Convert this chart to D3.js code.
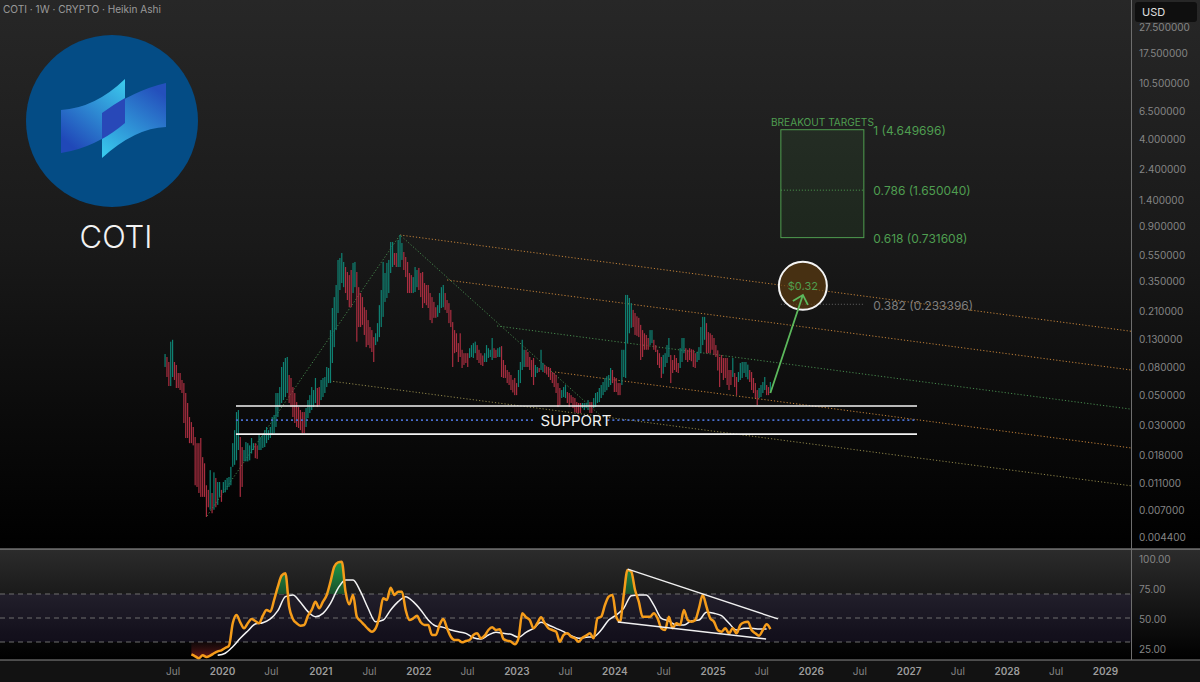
<!DOCTYPE html>
<html>
<head>
<meta charset="utf-8">
<title>COTI 1W</title>
<script src="https://cdn.jsdelivr.net/npm/d3@7"></script>
<style>
  html, body { margin: 0; padding: 0; background: #000; }
  svg { display: block; }
  text { font-family: Inter, "Liberation Sans", sans-serif; }
</style>
</head>
<body>
<svg id="chart" width="1200" height="682"></svg>
<script>
// weekly Heikin Ashi bars, first bar is 3 Jun 2019
var barHigh = [
  .0995,.0946,.0868,.123,.127,.0868,.0825,.0719,.0719,.0638,
  .0605,.051,.043,.0338,.031,.0285,.024,.0216,.0216,.0236,
  .017,.0153,.0105,.0097,.0136,.0092,.0131,.0119,.0111,.0111,
  .0097,.0111,.0115,.0119,.0121,.0144,.0216,.027,.0368,.0381,
  .024,.0202,.0192,.022,.0216,.0208,.0236,.0216,.0216,.0208,
  .0248,.024,.0248,.027,.0285,.027,.0285,.0338,.035,.051,
  .051,.0565,.0797,.0868,.093,.0946,.0695,.066,.0565,.051,
  .0437,.0401,.0381,.0368,.0368,.0394,.0452,.0492,.0565,.0537,
  .066,.0556,.0565,.0638,.066,.0671,.0797,.0783,.15,.219,
  .264,.325,.499,.516,.562,.482,.442,.406,.385,.42,
  .474,.482,.406,.313,.283,.264,.222,.212,.178,.158,
  .15,.133,.142,.169,.23,.298,.482,.399,.474,.499,
  .679,.679,.562,.562,.703,.766,.667,.572,.525,.482,
  .399,.385,.372,.442,.42,.435,.399,.406,.336,.325,
  .325,.283,.264,.243,.222,.23,.283,.313,.325,.283,
  .251,.238,.212,.172,.15,.142,.12,.142,.107,.101,.101,.101,
  .11,.116,.12,.123,.116,.107,.101,
  .097,
  .101,.116,.11,.107,.131,.11,.107,
  .11,.112,.114,.0898,.0825,.0757,.0731,.0695,
  .064,
  .066,.0605,.0757,.0868,.127,.107,.107,.103,.0946,.0898,.093,
  .0825,.0797,.0783,.107,.0853,.0825,
  .08,
  .0797,.0783,.0731,.0719,.0695,.0605,.0556,.0537,.0565,.0585,.0519,.051,.0492,.0476,.0468,.0437,
  .043,
  .043,.043,.043,.043,.0452,.0437,.0437,.0468,.051,.0519,.0556,.0585,.0616,.066,
  .068,
  .0695,.0783,.0757,.0671,.066,.0605,.0605,.107,.107,.274,.274,.26,.238,.212,.201,
  .19,
  .185,.164,.15,.142,.138,.131,.15,.15,.127,.116,.107,.101,.0946,
  .098,
  .101,.116,.131,.0978,.0898,.0978,.093,.0853,.11,.131,.131,.11,.107,.11,
  .108,
  .107,.101,.103,.112,.158,.188,.188,.169,.145,.142,.138,.131,.116,
  .106,
  .0946,.0978,.093,.093,.093,.0757,.0757,.093,.0719,.0671,.0731,.0853,.0868,.0868,.0868,
  .083,
  .0757,.0731,.066,.0605,.0537,.0556,.0585,.0616,.0671,.0585,.0565,.0616
];
var barLow = [
  .0797,.0671,.0575,.0575,.0671,.0638,.0556,.0556,.0537,.051,
  .0305,.0236,.0236,.0216,.0216,.0208,.0105,.0102,.0092,.0086,
  .0086,.0086,.0061,.0072,.0069,.0065,.0069,.0072,.0075,.0086,
  .0079,.0092,.0093,.0097,.0102,.0105,.0144,.0149,.0161,.0192,
  .0086,.0102,.0158,.0158,.0158,.0161,.0181,.0192,.0167,.0165,
  .0192,.0192,.0199,.0202,.0216,.0228,.0236,.0248,.0256,.0285,
  .0338,.0401,.043,.0452,.0476,.051,.043,.0401,.0338,.0305,
  .0285,.028,.027,.0256,.0256,.0285,.0332,.0362,.0381,.0401,
  .043,.0401,.0415,.0452,.0476,.051,.0565,.0605,.0605,.0853,
  .112,.15,.201,.298,.336,.313,.283,.251,.222,.222,
  .283,.313,.123,.158,.158,.164,.138,.112,.116,.11,
  .103,.0868,.116,.123,.133,.158,.188,.243,.26,.283,
  .399,.442,.458,.442,.442,.442,.499,.42,.372,.283,
  .283,.283,.283,.288,.313,.298,.264,.219,.238,.23,
  .219,.178,.169,.185,.185,.188,.201,.219,.222,.212,
  .201,.169,.158,.0797,.101,.103,.0868,.0946,.0783,.0825,.0853,.0797,
  .093,.0946,.093,.101,.0898,.0853,.0825,
  .081,
  .0868,.0868,.093,.0946,.0898,.093,.093,
  .0946,.0946,.0671,.066,.066,.0605,.0585,.0537,
  .0515,
  .0492,.0492,.0565,.0605,.0757,.0797,.0797,.0797,.0757,.0671,.0585,
  .0671,.0719,.0731,.0757,.0731,.0719,
  .07,
  .0671,.0638,.0605,.0565,.051,.0401,.0415,.0468,.0476,.0468,.043,.0401,.043,.0394,.0368,.0362,
  .0362,
  .0362,.0394,.0381,.0394,.0381,.0362,.0362,.0394,.0401,.043,.0437,.0468,.0492,.0519,
  .0535,
  .0565,.0585,.0605,.0519,.0519,.0492,.0492,.0585,.0671,.066,.12,.142,.156,.158,.138,
  .136,
  .133,.0898,.0946,.107,.107,.107,.116,.12,.107,.103,.0825,.0783,.066,
  .071,
  .0797,.0853,.0946,.0605,.0719,.0757,.0731,.0719,.0783,.0868,.101,.0898,.0868,.0898,
  .088,
  .0797,.0783,.0868,.0898,.101,.116,.127,.101,.101,.101,.107,.0978,.0946,
  .075,
  .0565,.0719,.0638,.066,.0585,.0537,.0585,.0671,.0565,.0492,.0616,.0638,.066,.0719,.0671,
  .0645,
  .0616,.0537,.051,.0468,.0415,.0468,.0476,.051,.0537,.0492,.0492,.051
];
var barUp = [
  1,0,0,1,1,0,0,0,0,0,
  0,0,0,0,0,0,0,0,0,0,
  0,0,0,0,1,0,1,0,1,1,
  0,1,1,1,1,1,1,1,1,1,
  0,0,1,1,1,1,1,1,0,0,
  1,1,1,1,1,1,1,1,1,1,
  1,1,1,1,1,1,0,0,0,0,
  0,0,0,0,0,1,1,1,1,1,
  1,0,0,1,1,1,1,1,1,1,
  1,1,1,1,1,1,0,0,0,0,
  1,1,0,0,0,0,0,0,0,0,
  0,0,1,1,1,1,1,1,1,1,
  1,1,0,0,1,1,1,0,0,0,
  0,0,1,1,1,0,0,0,0,0,
  0,0,0,0,0,1,1,1,1,0,
  0,0,0,0,0,0,0,0,0,0,0,0,
  1,1,1,1,0,0,0,
  0,
  1,1,1,1,1,0,0,
  1,1,0,0,0,0,0,0,
  0,
  0,0,1,1,1,1,0,0,0,0,0,
  1,1,0,1,1,0,
  0,
  0,0,0,0,0,0,0,1,1,1,0,0,0,0,0,0,
  0,
  0,1,1,1,1,0,0,1,1,1,1,1,1,1,
  1,
  1,1,0,0,0,0,0,1,1,1,1,1,1,0,0,
  0,
  0,0,0,0,0,0,1,1,0,0,0,0,0,
  1,
  1,1,1,0,0,0,0,0,1,1,1,0,0,0,
  0,
  0,0,1,1,1,1,1,0,0,0,0,0,0,
  0,
  0,0,0,0,0,0,0,1,0,0,1,1,1,1,1,
  1,
  0,0,0,0,0,1,1,1,1,0,0,1
];

// RSI every second week starting at bar 14
var rsiValues = [
  19.7,18.1,16.4,18.9,17.5,18.6,20.6,22.2,23.1,25,26.9,45.6,52.5,46.4,41.4,45.6,49.2,47.5,45.6,51.9,
  56.7,55.3,65,76.1,85.3,87.2,59.4,49.2,45.6,43.6,44.2,51.9,56.7,63.6,58.1,63.6,69.2,80.3,92.8,96.4,
  96.9,71.9,61.4,69.2,51.1,47.5,44.2,40.8,38.6,41.4,51.1,66.4,65,75.3,69.2,71.9,71.9,56.7,48.3,49.7,
  51.9,46.4,44.2,44.2,35.8,35.8,44.2,49.2,41.4,34.4,31.7,31.7,29.7,30.8,31.7,35.8,37.2,33.1,35.3,40,
  42.2,40,40.6,32.5,31.1,30.3,28.1,33.1,53.9,50.6,48.3,41.4,45.6,50.6,45.6,41.4,40,38.6,30.3,35.8,
  37.2,34.4,33.1,30.3,33.6,35.3,37.2,33.1,49.7,51.1,60.8,67.8,69.2,51.1,46.9,69.2,90,88.6,73.3,63.6,
  51.1,51.1,51.1,53.9,49.7,41.4,40,51.1,41.4,45.6,44.2,56.7,48.3,46.9,48.3,58.1,69.2,59.4,49.7,46.9,
  40,38.6,41.4,37.2,41.4,37.2,44.2,46.4,46.9,40,37.2,35.3,40,44.7,40.8
];
// RSI moving average every fourth week starting at bar 28
var rsiMa = [
  18.9,20.6,26.1,33.1,39.2,45,46.1,49.2,56.1,67.8,69.2,63.1,55.3,51.1,53.9,62.2,74.7,81.7,81.7,71.9,
  58.1,46.9,48.3,56.7,63.6,67.8,63.6,56.7,48.3,43.3,42.2,40,38.6,37.2,33.6,32.5,35.8,
  38.1,37.2,36.4,33.9,38.1,41.4,46.4,44.2,41.4,38.6,35.3,33.1,33.9,34.4,40,48.3,52.5,58.1,68.6,69.2,
  69.2,60.8,49.7,47.5,44.2,44.2,47.5,48.3,54.7,53.9,51.9,45.6,40,41.4,41.4,40.8,40.8
];

var priceTicks = [27.5,17.5,10.5,6.5,4,2.4,1.4,.9,.55,.35,.21,.13,.08,.05,.03,.018,.011,.007,.0044];
var rsiTicks = [100,75,50,25];
var rsiBands = [70,50,30];

var fibLevels = [4.649696,1.65004,.731608,.233396];
var fibNames = ["1","0.786","0.618","0.382"];
var fibYears = [2025.698,2026.544];

// drawn lines as [year, price]
var channelFrom = [[2021.814,.765],[2022.294,.354],[2022.803,.161],[2023.395,.0731],[2021.1,.0627]];
var channelTo = [[2029.266,.147],[2029.266,.0757],[2029.266,.0387],[2029.266,.0199],[2029.266,.0104]];
var swingPoints = [[2019.847,.0062],[2021.814,.765],[2023.853,.035]];
var supportPrices = [.0408,.0252];
var supportMid = .0321;
var supportYears = [2020.143,2027.085];
var supportGap = [2023.2,2023.93];
var arrowFrom = [2025.591,.051];
var arrowTo = [2025.92,.274];
var targetPrice = .32;
var rsiTopLine = [[2024.139,90.8],[2025.668,49.2]];
var rsiBottomLine = [[2024.037,46.7],[2025.545,32.5]];

var colors = {
  up: "#0f8273",
  down: "#a92e40",
  rsi: "#f59c1a",
  green: "#4f9e50",
  grey: "#858585",
  chanOrange: "#c08038",
  chanGreen: "#46884c",
};
var channelColors = [colors.chanOrange, colors.chanOrange, colors.chanGreen, colors.chanOrange, "#8c8348"];

var svgProperty = {
  width: 1200,
  height: 682,
  right: 1131,
  mainBottom: 549,
  rsiBottom: 660,
};

var svg = d3.select("#chart");
var firstBar = new Date(2019, 5, 3);

var x = d3.scaleTime()
  .domain([new Date(2020, 0, 1), new Date(2029, 0, 1)])
  .range([222, 1105]);
var y = d3.scaleLog().domain([0.0044, 27.5]).range([536, 26]);
var yRsi = d3.scaleLinear().domain([30, 70]).range([642, 594]);

function weekX(i) {
  return x(new Date(firstBar.getTime() + i * 7 * 864e5));
}

function yearX(yr) {
  var whole = Math.floor(yr);
  return x(new Date(whole, 0, 1 + (yr - whole) * 365.25));
}

function gradient(id, stops, x1, y1, x2, y2) {
  var g = svg.select("defs").append("linearGradient").attr("id", id)
    .attr("x1", x1 || 0).attr("y1", y1 || 0).attr("x2", x2 || 0).attr("y2", y2 === undefined ? 1 : y2);
  stops.forEach(function (s) {
    g.append("stop").attr("offset", s[0]).attr("stop-color", s[1]).attr("stop-opacity", s[2] === undefined ? 1 : s[2]);
  });
}

function dotted(points, color, dash, width) {
  return svg.append("path")
    .attr("d", d3.line()(points))
    .attr("fill", "none")
    .attr("stroke", color)
    .attr("stroke-width", width || 1)
    .attr("stroke-dasharray", dash);
}

function drawBackground() {
  svg.append("defs");
  gradient("mainBg", [[0, "#272727"], [.45, "#191919"], [.75, "#0b0b0b"], [1, "#000"]]);
  gradient("rsiBg", [[0, "#2c2c2c"], [1, "#000"]]);
  gradient("logoLeft", [[0, "#3ccdee"], [1, "#2048b8"]], 1, 0, .3, 1);
  gradient("logoRight", [[0, "#2450bc"], [1, "#38c8ec"]], .7, 0, .1, 1);
  gradient("rsiHigh", [[0, "#1f9a46"], [1, "#1a4d2a"]]);
  gradient("rsiLow", [[0, "#5a1a1a", .1], [1, "#7a1c1c", .85]]);

  svg.append("rect").attr("width", svgProperty.width).attr("height", svgProperty.mainBottom).attr("fill", "url(#mainBg)");
  svg.append("rect").attr("y", svgProperty.mainBottom).attr("width", svgProperty.width)
    .attr("height", svgProperty.rsiBottom - svgProperty.mainBottom).attr("fill", "url(#rsiBg)");
  svg.append("rect").attr("y", svgProperty.rsiBottom).attr("width", svgProperty.width)
    .attr("height", svgProperty.height - svgProperty.rsiBottom).attr("fill", "#121212");
}

function drawLogo() {
  svg.append("circle").attr("cx", 112).attr("cy", 121).attr("r", 86).attr("fill", "#044c85");
  svg.append("path").attr("d", "M61,110Q95,108 125,79L125,123Q95,148 61,153Z").attr("fill", "url(#logoLeft)");
  svg.append("path").attr("d", "M102,113Q135,90 166,83L166,127Q135,128 102,158Z").attr("fill", "url(#logoRight)");
  svg.append("path").attr("d", "M102,113Q113,105 125,98L125,123Q113,133 102,139Z").attr("fill", "#2848b8");
  svg.append("text").attr("x", 116).attr("y", 248).attr("text-anchor", "middle")
    .attr("font-size", 31).attr("font-weight", 300).attr("fill", "#f2f2f2").text("COTI");
  svg.append("text").attr("x", 3).attr("y", 13).attr("font-size", 10.1).attr("fill", "#9a9a9a")
    .text("COTI · 1W · CRYPTO · Heikin Ashi");
}

function drawChannels() {
  channelFrom.forEach(function (from, i) {
    var to = channelTo[i];
    dotted([[yearX(from[0]), y(from[1])], [yearX(to[0]), y(to[1])]], channelColors[i], "1.2,2");
  });
  dotted(swingPoints.map(function (p) {
    return [yearX(p[0]), y(p[1])];
  }), colors.chanGreen, "1.2,2");
}

function drawBars() {
  svg.append("g").selectAll("rect")
    .data(barHigh)
    .enter()
    .append("rect")
    .attr("x", function (d, i) {
      return weekX(i) - 0.6;
    })
    .attr("width", 1.2)
    .attr("y", function (d) {
      return y(d);
    })
    .attr("height", function (d, i) {
      return y(barLow[i]) - y(d);
    })
    .attr("fill", function (d, i) {
      return barUp[i] ? colors.up : colors.down;
    });
}

function drawSupport() {
  var x0 = yearX(supportYears[0]);
  var x1 = yearX(supportYears[1]);
  supportPrices.forEach(function (p) {
    svg.append("line").attr("x1", x0).attr("x2", x1).attr("y1", y(p)).attr("y2", y(p))
      .attr("stroke", "#f4f4f4").attr("stroke-width", 1.6);
  });
  dotted([[x0, y(supportMid)], [yearX(supportGap[0]), y(supportMid)]], "#4a6fd0", "2,3", 1.7);
  dotted([[yearX(supportGap[1]), y(supportMid)], [x1, y(supportMid)]], "#4a6fd0", "2,3", 1.7);
  svg.append("text").attr("x", 576).attr("y", y(supportMid) + 6).attr("text-anchor", "middle")
    .attr("font-size", 15).attr("fill", "#f2f2f2").text("SUPPORT");
}

function drawTargets() {
  var x0 = yearX(fibYears[0]);
  var x1 = yearX(fibYears[1]);
  svg.append("rect")
    .attr("x", x0).attr("width", x1 - x0)
    .attr("y", y(fibLevels[0])).attr("height", y(fibLevels[2]) - y(fibLevels[0]))
    .attr("fill", "#4caf50").attr("fill-opacity", .09)
    .attr("stroke", colors.green).attr("stroke-width", 1);
  dotted([[x0, y(fibLevels[1])], [x1, y(fibLevels[1])]], colors.green, "1,2");
  dotted([[x0, y(fibLevels[3])], [x1, y(fibLevels[3])]], "#666", "1,2");

  fibLevels.forEach(function (level, i) {
    svg.append("text").attr("x", x1 + 9.5).attr("y", y(level) + (i == 3 ? 6 : 5))
      .attr("font-size", 12).attr("fill", i == 3 ? "#7e7e7e" : colors.green)
      .text(fibNames[i] + " (" + level.toFixed(6) + ")");
  });
  svg.append("text").attr("x", 771).attr("y", y(fibLevels[0]) - 4)
    .attr("font-size", 10.1).attr("fill", colors.green).text("BREAKOUT TARGETS");

  var cx = yearX(arrowTo[0]);
  var cy = y(targetPrice);
  svg.append("circle").attr("cx", cx).attr("cy", cy).attr("r", 24)
    .attr("fill", "#5a3a10").attr("fill-opacity", .72).attr("stroke", "#f4f4f4").attr("stroke-width", 2);
  svg.append("text").attr("x", cx).attr("y", cy + 4).attr("text-anchor", "middle")
    .attr("font-size", 11).attr("fill", colors.green).text("$" + targetPrice);

  var tipX = yearX(arrowTo[0]);
  var tipY = y(arrowTo[1]);
  var arrow = d3.line();
  svg.append("path")
    .attr("d", arrow([[yearX(arrowFrom[0]), y(arrowFrom[1])], [tipX, tipY]]) +
      arrow([[tipX - 10, tipY + 6], [tipX, tipY], [tipX + 5, tipY + 10]]))
    .attr("fill", "none").attr("stroke", "#5cb85c").attr("stroke-width", 1.8);
}

function drawRsi() {
  var left = 0;
  var right = svgProperty.right;
  svg.append("rect").attr("x", left).attr("width", right - left)
    .attr("y", yRsi(70)).attr("height", yRsi(30) - yRsi(70))
    .attr("fill", "#6a4fc8").attr("fill-opacity", .1);
  rsiBands.forEach(function (band) {
    svg.append("line").attr("x1", left).attr("x2", right).attr("y1", yRsi(band)).attr("y2", yRsi(band))
      .attr("stroke", "#6f6f6f").attr("stroke-dasharray", "5,4");
  });

  var rsiX = function (d, i) {
    return weekX(14 + i * 2);
  };
  var maX = function (d, i) {
    return weekX(28 + i * 4);
  };
  var high = d3.area().curve(d3.curveMonotoneX).x(rsiX).y0(yRsi(70)).y1(function (d) {
    return yRsi(Math.max(d, 70));
  });
  var low = d3.area().curve(d3.curveMonotoneX).x(rsiX).y0(yRsi(30)).y1(function (d) {
    return yRsi(Math.min(d, 30));
  });
  svg.append("path").attr("d", high(rsiValues)).attr("fill", "url(#rsiHigh)");
  svg.append("path").attr("d", low(rsiValues)).attr("fill", "url(#rsiLow)");

  svg.append("path")
    .attr("d", d3.line().curve(d3.curveMonotoneX).x(maX).y(function (d) {
      return yRsi(d);
    })(rsiMa))
    .attr("fill", "none").attr("stroke", "#f4f4f4").attr("stroke-width", 1.5);
  svg.append("path")
    .attr("d", d3.line().curve(d3.curveMonotoneX).x(rsiX).y(function (d) {
      return yRsi(d);
    })(rsiValues))
    .attr("fill", "none").attr("stroke", colors.rsi).attr("stroke-width", 2.5).attr("stroke-linejoin", "round");

  [rsiTopLine, rsiBottomLine].forEach(function (line) {
    svg.append("path")
      .attr("d", d3.line()(line.map(function (p) {
        return [yearX(p[0]), yRsi(p[1])];
      })))
      .attr("stroke", "#f0f0f0").attr("stroke-width", 1.4).attr("fill", "none");
  });
}

function styleAxis(g) {
  g.select(".domain").remove();
  g.selectAll(".tick line").remove();
  g.selectAll("text").attr("fill", colors.grey).style("font-family", "Inter, sans-serif");
}

function drawAxes() {
  // panes and price scale borders
  svg.append("line").attr("x1", 0).attr("x2", svgProperty.width).attr("y1", svgProperty.mainBottom).attr("y2", svgProperty.mainBottom)
    .attr("stroke", "#a0a0a0").attr("stroke-width", 1);
  svg.append("line").attr("x1", 0).attr("x2", svgProperty.width).attr("y1", svgProperty.rsiBottom).attr("y2", svgProperty.rsiBottom)
    .attr("stroke", "#8a8a8a").attr("stroke-width", 1);
  svg.append("line").attr("x1", svgProperty.right + .5).attr("x2", svgProperty.right + .5).attr("y1", 0).attr("y2", svgProperty.rsiBottom)
    .attr("stroke", "#6e6e6e").attr("stroke-width", 1);

  var priceAxis = d3.axisRight(y).tickValues(priceTicks).tickSize(0).tickPadding(0).tickFormat(function (d) {
    return d.toFixed(6);
  });
  svg.append("g").attr("transform", "translate(1139,1)").attr("font-size", 11.8).call(priceAxis).call(styleAxis);

  var rsiAxis = d3.axisRight(d3.scaleLinear().domain([25, 100]).range([648, 558])).tickValues(rsiTicks).tickSize(0).tickPadding(0)
    .tickFormat(d3.format(".2f"));
  svg.append("g").attr("transform", "translate(1139,1)").attr("font-size", 11.8).call(rsiAxis).call(styleAxis);

  var tickDates = [new Date(2019, 6, 1)];
  d3.range(2020, 2029).forEach(function (yr) {
    tickDates.push(new Date(yr, 0, 1));
    tickDates.push(new Date(yr, 6, 1));
  });
  tickDates.push(new Date(2029, 0, 1));
  var timeAxis = d3.axisBottom(x).tickValues(tickDates).tickSize(0).tickPadding(0).tickFormat(function (d) {
    return d.getMonth() == 0 ? d.getFullYear() : "Jul";
  });
  svg.append("g").attr("transform", "translate(0,668)").attr("font-size", 10.5).call(timeAxis).call(styleAxis)
    .selectAll("text")
    .attr("font-weight", function (d) {
      return d.getMonth() == 0 ? 600 : 400;
    })
    .attr("fill", function (d) {
      return d.getMonth() == 0 ? "#9c9c9c" : colors.grey;
    });

  svg.append("rect").attr("x", 1135).attr("y", 2).attr("width", 62).attr("height", 20).attr("rx", 3).attr("fill", "#0f0f0f");
  svg.append("text").attr("x", 1142).attr("y", 15.5).attr("font-size", 11).attr("fill", "#e0e0e0").text("USD");
}

drawBackground();
drawLogo();
drawChannels();
drawBars();
drawSupport();
drawTargets();
drawRsi();
drawAxes();
</script>
</body>
</html>
